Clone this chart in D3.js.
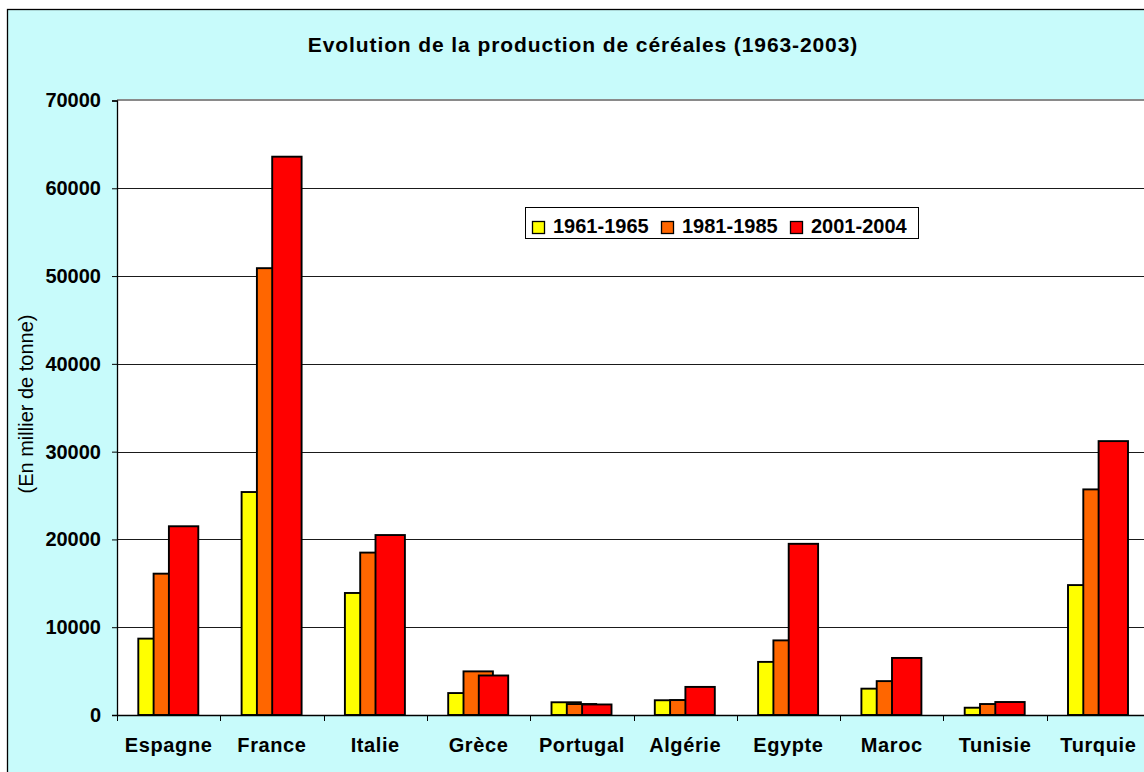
<!DOCTYPE html>
<html>
<head>
<meta charset="utf-8">
<script src="https://cdn.jsdelivr.net/npm/d3@7"></script>
<style>
  body { margin: 0; background: #fff; }
  svg { display: block; font-family: Arial, "Liberation Sans", sans-serif; }
</style>
</head>
<body>
<div id="chart-container"></div>
<script>
const countries = ["Espagne", "France", "Italie", "Grèce", "Portugal", "Algérie", "Egypte", "Maroc", "Tunisie", "Turquie"];
const seriesNames = ["1961-1965", "1981-1985", "2001-2004"];
const values1961 = [8700, 25400, 13900, 2500, 1450, 1680, 6050, 3000, 830, 14800];
const values1981 = [16100, 50900, 18500, 4970, 1250, 1700, 8500, 3860, 1250, 25700];
const values2001 = [21500, 63600, 20500, 4500, 1200, 3200, 19500, 6500, 1480, 31200];
const seriesColors = ["#ffff00", "#ff6600", "#ff0000"];
const yTicks = [0, 10000, 20000, 30000, 40000, 50000, 60000, 70000];
const titleText = "Evolution de la production de céréales (1963-2003)";
const yTitle = "(En millier de tonne)";

const render = () => {
  const width = 1144;
  const height = 772;
  const series = [values1961, values1981, values2001];

  const svg = d3.select("#chart-container").append("svg")
    .attr("width", width)
    .attr("height", height);

  // chart area background + border (runs off the right/bottom edge)
  svg.append("rect")
    .attr("x", 7.5).attr("y", 9.5)
    .attr("width", 1200).attr("height", 800)
    .attr("fill", "#c8fbfb")
    .attr("stroke", "#000")
    .attr("stroke-width", 1.3);

  const left = 117;
  const right = 1150;
  const top = 100.5;
  const bottom = 715;

  const x = d3.scaleBand().domain(countries).range([left, right]);
  const xs = d3.scaleLinear().domain([0, 2]).range([21.3, 51.9]);
  const barW = 29.4;
  const y = d3.scaleLinear().domain([0, 70000]).range([bottom, top]);

  // plot area
  svg.append("rect")
    .attr("x", left).attr("y", top)
    .attr("width", right - left).attr("height", bottom - top)
    .attr("fill", "#fff");
  svg.append("line")
    .attr("x1", left).attr("x2", right)
    .attr("y1", top - 0.5).attr("y2", top - 0.5)
    .attr("stroke", "#8a8a8a").attr("stroke-width", 2);

  // gridlines
  svg.append("g")
    .selectAll("line")
    .data(yTicks.slice(1, -1))
    .join("line")
    .attr("x1", left).attr("x2", right)
    .attr("y1", (d) => Math.round(y(d)) + 0.5)
    .attr("y2", (d) => Math.round(y(d)) + 0.5)
    .attr("stroke", "#1a1a1a")
    .attr("stroke-width", 1);

  // bars, one series at a time so later ones sit on top
  series.forEach((vals, s) => {
    svg.append("g")
      .selectAll("rect")
      .data(vals.map((v, i) => ({ country: countries[i], value: v })))
      .join("rect")
      .attr("x", (d) => x(d.country) + xs(s))
      .attr("y", (d) => y(d.value))
      .attr("width", barW)
      .attr("height", (d) => bottom - y(d.value))
      .attr("fill", seriesColors[s])
      .attr("stroke", "#000")
      .attr("stroke-width", 1.9);
  });

  // y axis
  const yAxis = svg.append("g")
    .attr("transform", `translate(${left},0)`)
    .call(d3.axisLeft(y).tickValues(yTicks).tickSize(5).tickPadding(11).tickFormat(d3.format("d")));
  yAxis.select(".domain").attr("stroke", "#000").attr("stroke-width", 1.3);
  yAxis.selectAll(".tick line").attr("stroke", "#000");
  yAxis.selectAll("text")
    .attr("font-size", 20)
    .attr("font-weight", "bold")
    .attr("font-family", "Arial, 'Liberation Sans', sans-serif")
    .attr("fill", "#000");

  // x axis
  const xAxis = svg.append("g")
    .attr("transform", `translate(0,${bottom})`)
    .call(d3.axisBottom(x).tickSize(0).tickPadding(23));
  xAxis.select(".domain").attr("stroke", "#000").attr("stroke-width", 1.3);
  xAxis.selectAll("text")
    .attr("font-size", 20)
    .attr("font-weight", "bold")
    .attr("letter-spacing", 0.6)
    .attr("font-family", "Arial, 'Liberation Sans', sans-serif")
    .attr("fill", "#000");
  svg.append("g")
    .selectAll("line")
    .data(countries)
    .join("line")
    .attr("x1", (d) => Math.round(x(d)) + 0.5)
    .attr("x2", (d) => Math.round(x(d)) + 0.5)
    .attr("y1", bottom).attr("y2", bottom + 6)
    .attr("stroke", "#000");

  // title
  svg.append("text")
    .attr("x", 583).attr("y", 52)
    .attr("text-anchor", "middle")
    .attr("font-size", 21)
    .attr("font-weight", "bold")
    .attr("letter-spacing", 0.9)
    .text(titleText);

  // y title
  svg.append("text")
    .attr("transform", "translate(26,404) rotate(-90)")
    .attr("text-anchor", "middle")
    .attr("dominant-baseline", "central")
    .attr("font-size", 20)
    .text(yTitle);

  // legend
  const legend = svg.append("g");
  legend.append("rect")
    .attr("x", 525.5).attr("y", 207.5)
    .attr("width", 393).attr("height", 31)
    .attr("fill", "#fff")
    .attr("stroke", "#000");
  const legendX = [532, 661, 790];
  const items = legend.selectAll("g")
    .data(seriesNames)
    .join("g")
    .attr("transform", (d, i) => `translate(${legendX[i]},0)`);
  items.append("rect")
    .attr("x", 0.5).attr("y", 221.5)
    .attr("width", 12).attr("height", 12)
    .attr("fill", (d, i) => seriesColors[i])
    .attr("stroke", "#000")
    .attr("stroke-width", 1.3);
  items.append("text")
    .attr("x", 21).attr("y", 233)
    .attr("font-size", 20)
    .attr("font-weight", "bold")
    .text((d) => d);
};

render();
</script>
</body>
</html>
